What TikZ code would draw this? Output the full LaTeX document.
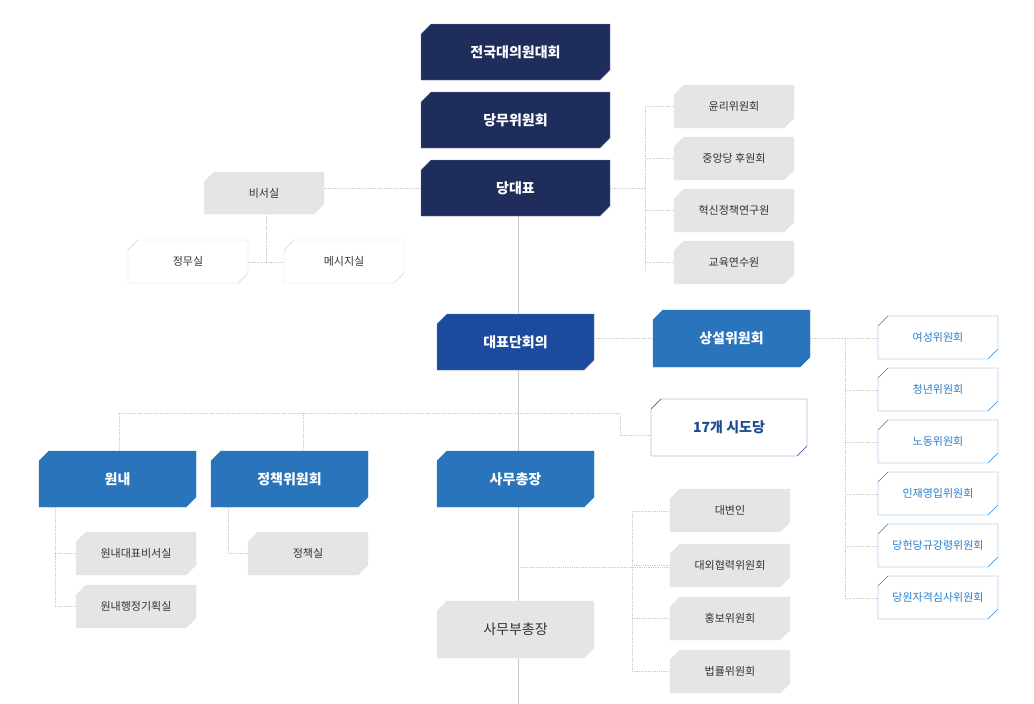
\documentclass[tikz,border=0pt]{standalone}
\usepackage{fontspec}
\setmainfont{Noto Sans CJK KR}
\newfontfamily\kb{Noto Sans CJK KR Bold}
\definecolor{navy}{HTML}{1F2D5C}
\definecolor{royal}{HTML}{1C4A9C}
\definecolor{mid}{HTML}{2A74BC}
\definecolor{lg}{HTML}{E4E5E7}
\definecolor{bd}{HTML}{D0D2D5}
\definecolor{bl}{HTML}{2A7FD0}
\definecolor{dk}{HTML}{1E4A96}
\definecolor{ln}{HTML}{C8CACD}
\tikzset{
 navybox/.style={fill=navy,draw=navy!60!white},
 royalbox/.style={fill=royal,draw=royal!70!white},
 midbox/.style={fill=mid,draw=mid},
 greybox/.style={fill=lg,draw=lg},
 whitebox/.style={fill=white,draw=bd},
 bluebox/.style={fill=white,draw=bl},
 dkbox/.style={fill=white,draw=dk},
 big/.style={font=\fontsize{14}{16}\selectfont\bfseries,text=white},
 sm/.style={font=\fontsize{11}{13}\selectfont,text=black!80},
 smb/.style={font=\fontsize{11}{13}\selectfont,text=bl},
 dot/.style={draw=ln,densely dotted,line width=0.8pt},
 solid line/.style={draw=ln,line width=1pt}
}
\newcommand{\cbox}[7]{%
 \path[#6] (#2+10,#3) -- (#4,#3) -- (#4,#5-10) -- (#4-10,#5) -- (#2,#5) -- (#2,#3+10) -- cycle;
 \node[#7] (#1) at ({(#2+#4)/2},{(#3+#5)/2}) {\strut};}
\newcommand{\lbl}[3]{\node[#2] at (#1) {#3};}
\begin{document}
\begin{tikzpicture}[x=1pt,y=-1pt]
\useasboundingbox (0,0) rectangle (1034,704);
% main spine
\coordinate (top) at (518,216);
\coordinate (bot) at (518,704);
\draw[solid line] (top) -- (bot);
% connectors
\draw[dot] (204,188) -- (421,188);
\draw[dot] (266,214) -- (266,262);
\draw[dot] (248,262) -- (284,262);
\draw[dot] (610,188) -- (645,188);
\draw[dot] (645,106) -- (645,271);
\foreach \y in {106,158,210,262} \draw[dot] (645,\y) -- (674,\y);
\draw[dot] (594,338) -- (653,338);
\draw[dot] (810,338) -- (845,338) -- (845,600);
\foreach \y in {338,390,442,494,546,598} \draw[dot] (845,\y) -- (878,\y);
\draw[dot] (119,451) -- (119,413) -- (620,413) -- (620,435) -- (651,435);
\draw[dot] (303,413) -- (303,451);
\draw[dot] (55,507) -- (55,606) -- (76,606);
\draw[dot] (55,553) -- (76,553);
\draw[dot] (228,507) -- (228,553) -- (248,553);
\draw[dot] (518,567) -- (670,567);
\draw[dot] (632,511) -- (632,671);
\foreach \y in {511,565,618,671} \draw[dot] (632,\y) -- (670,\y);
% boxes
\cbox{a}{421}{24}{610}{80}{navybox}{}
\cbox{b}{421}{92}{610}{148}{navybox}{}
\cbox{c}{421}{160}{610}{216}{navybox}{}
\cbox{s}{204}{172}{324}{214}{greybox}{}
\cbox{s1}{128}{240}{248}{283}{whitebox}{}
\cbox{s2}{284}{240}{404}{283}{whitebox}{}
\cbox{r1}{674}{85}{794}{128}{greybox}{}
\cbox{r2}{674}{137}{794}{180}{greybox}{}
\cbox{r3}{674}{189}{794}{232}{greybox}{}
\cbox{r4}{674}{241}{794}{284}{greybox}{}
\cbox{d}{437}{314}{594}{370}{royalbox}{}
\cbox{e}{653}{310}{810}{367}{midbox}{}
\cbox{f}{651}{399}{807}{456}{dkbox}{}
\cbox{w1}{878}{316}{998}{359}{bluebox}{}
\cbox{w2}{878}{368}{998}{411}{bluebox}{}
\cbox{w3}{878}{420}{998}{463}{bluebox}{}
\cbox{w4}{878}{472}{998}{515}{bluebox}{}
\cbox{w5}{878}{524}{998}{567}{bluebox}{}
\cbox{w6}{878}{576}{998}{619}{bluebox}{}
\cbox{g1}{39}{451}{196}{507}{midbox}{}
\cbox{g2}{211}{451}{368}{507}{midbox}{}
\cbox{g3}{437}{451}{594}{507}{midbox}{}
\cbox{h1}{76}{532}{196}{575}{greybox}{}
\cbox{h2}{76}{585}{196}{628}{greybox}{}
\cbox{h3}{248}{532}{368}{575}{greybox}{}
\cbox{k1}{670}{489}{790}{532}{greybox}{}
\cbox{k2}{670}{544}{790}{587}{greybox}{}
\cbox{k3}{670}{597}{790}{640}{greybox}{}
\cbox{k4}{670}{650}{790}{693}{greybox}{}
\cbox{m}{437}{601}{594}{658}{greybox}{}
% labels
\lbl{a}{big}{전국대의원대회}
\lbl{b}{big}{당무위원회}
\lbl{c}{big}{당대표}
\lbl{s}{sm}{비서실}
\lbl{s1}{sm}{정무실}
\lbl{s2}{sm}{메시지실}
\lbl{r1}{sm}{윤리위원회}
\lbl{r2}{sm}{중앙당 후원회}
\lbl{r3}{sm}{혁신정책연구원}
\lbl{r4}{sm}{교육연수원}
\lbl{d}{big}{대표단회의}
\lbl{e}{big}{상설위원회}
\lbl{f}{big,text=dk}{17개 시도당}
\lbl{w1}{smb}{여성위원회}
\lbl{w2}{smb}{청년위원회}
\lbl{w3}{smb}{노동위원회}
\lbl{w4}{smb}{인재영입위원회}
\lbl{w5}{smb}{당헌당규강령위원회}
\lbl{w6}{smb}{당원자격심사위원회}
\lbl{g1}{big}{원내}
\lbl{g2}{big}{정책위원회}
\lbl{g3}{big}{사무총장}
\lbl{h1}{sm}{원내대표비서실}
\lbl{h2}{sm}{원내행정기획실}
\lbl{h3}{sm}{정책실}
\lbl{k1}{sm}{대변인}
\lbl{k2}{sm}{대외협력위원회}
\lbl{k3}{sm}{홍보위원회}
\lbl{k4}{sm}{법률위원회}
\lbl{m}{big,font=\fontsize{14}{16}\selectfont,text=black!80}{사무부총장}
\end{tikzpicture}
\end{document}
